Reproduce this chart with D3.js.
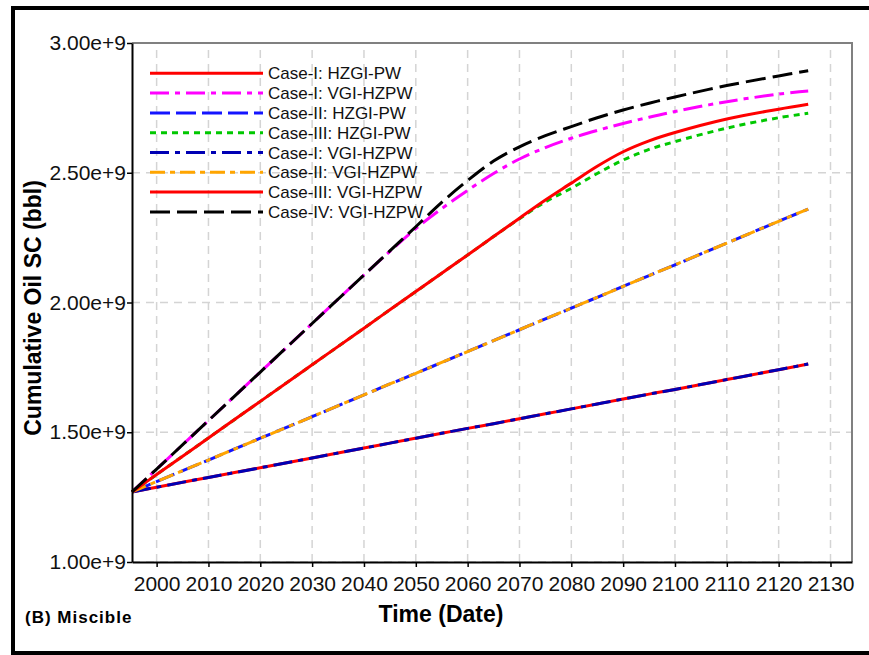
<!DOCTYPE html>
<html>
<head>
<meta charset="utf-8">
<script src="https://cdn.jsdelivr.net/npm/d3@7"></script>
<style>
  body { margin: 0; background: #fff; }
  svg { display: block; font-family: Arial, 'Liberation Sans', sans-serif; }
</style>
</head>
<body>
<div class="container"></div>
<script>
const WIDTH = 869
const HEIGHT = 655

// sample years
const years = [1995.25, 2000, 2010, 2020, 2030, 2040, 2045, 2050, 2055, 2060, 2065, 2070, 2075, 2080, 2085, 2090, 2095, 2100, 2110, 2120, 2125.7]

// cumulative oil, in units of 1e9 bbl
const case1Hzgi  = [1.270, 1.288, 1.326, 1.363, 1.401, 1.439, 1.458, 1.477, 1.496, 1.515, 1.533, 1.552, 1.571, 1.590, 1.609, 1.628, 1.647, 1.665, 1.703, 1.741, 1.763]
const case1VgiA  = [1.270, 1.358, 1.545, 1.732, 1.919, 2.106, 2.197, 2.285, 2.362, 2.432, 2.497, 2.553, 2.597, 2.633, 2.663, 2.690, 2.714, 2.736, 2.774, 2.803, 2.815]
const case2Hzgi  = [1.270, 1.310, 1.393, 1.477, 1.560, 1.644, 1.686, 1.727, 1.769, 1.811, 1.853, 1.895, 1.937, 1.978, 2.020, 2.062, 2.104, 2.145, 2.229, 2.313, 2.360]
const case3Hzgi  = [1.270, 1.337, 1.478, 1.619, 1.760, 1.901, 1.972, 2.042, 2.113, 2.183, 2.254, 2.323, 2.388, 2.440, 2.497, 2.549, 2.590, 2.620, 2.672, 2.712, 2.729]
const case1VgiB  = [1.270, 1.288, 1.326, 1.363, 1.401, 1.439, 1.458, 1.477, 1.496, 1.515, 1.533, 1.552, 1.571, 1.590, 1.609, 1.628, 1.647, 1.665, 1.703, 1.741, 1.763]
const case2Vgi   = [1.270, 1.310, 1.393, 1.477, 1.560, 1.644, 1.686, 1.727, 1.769, 1.811, 1.853, 1.895, 1.937, 1.978, 2.020, 2.062, 2.104, 2.145, 2.229, 2.313, 2.360]
const case3Vgi   = [1.270, 1.337, 1.478, 1.619, 1.760, 1.901, 1.972, 2.042, 2.113, 2.183, 2.254, 2.325, 2.395, 2.460, 2.525, 2.581, 2.623, 2.655, 2.707, 2.745, 2.764]
const case4Vgi   = [1.270, 1.358, 1.545, 1.732, 1.919, 2.106, 2.199, 2.292, 2.386, 2.470, 2.545, 2.600, 2.643, 2.678, 2.712, 2.742, 2.768, 2.792, 2.836, 2.873, 2.893]

const seriesNames = ['Case-I: HZGI-PW', 'Case-I: VGI-HZPW', 'Case-II: HZGI-PW', 'Case-III: HZGI-PW', 'Case-I: VGI-HZPW', 'Case-II: VGI-HZPW', 'Case-III: VGI-HZPW', 'Case-IV: VGI-HZPW']
const seriesValues = [case1Hzgi, case1VgiA, case2Hzgi, case3Hzgi, case1VgiB, case2Vgi, case3Vgi, case4Vgi]
const seriesColors = ['#ff0000', '#ff00ff', '#1414ff', '#00c800', '#0000b4', '#ffa500', '#ff0000', '#000000']
const seriesDash = ['none', '19,6,5,6', '20,6', '6,5', '19,6,5,6', '15,5,5,5', 'none', '20,7']

const xTicks = [2000, 2010, 2020, 2030, 2040, 2050, 2060, 2070, 2080, 2090, 2100, 2110, 2120, 2130]
const yTicks = [1.0e9, 1.5e9, 2.0e9, 2.5e9, 3.0e9]

const margin = { left: 132, right: WIDTH - 852, top: 43, bottom: HEIGHT - 562 }

const x = d3.scaleLinear().domain([1995.25, 2134.15]).range([margin.left, WIDTH - margin.right])
const y = d3.scaleLinear().domain([1.0e9, 3.0e9]).range([HEIGHT - margin.bottom, margin.top])

const svg = d3.select('.container').append('svg')
    .attr('width', WIDTH)
    .attr('height', HEIGHT)
    .attr('viewBox', `0 0 ${WIDTH} ${HEIGHT}`)

// outer frame
svg.append('rect')
    .attr('x', 13).attr('y', 8)
    .attr('width', 900).attr('height', 645)
    .attr('fill', 'none').attr('stroke', '#000').attr('stroke-width', 4)

// grid
const grid = svg.append('g').attr('stroke', '#d4d4d4').attr('stroke-width', 1.5).attr('stroke-dasharray', '8,6')
grid.selectAll('.gx').data(xTicks).join('line')
    .attr('x1', d => x(d)).attr('x2', d => x(d))
    .attr('y1', y.range()[0]).attr('y2', y.range()[1])
grid.selectAll('.gy').data(yTicks).join('line')
    .attr('y1', d => y(d)).attr('y2', d => y(d))
    .attr('x1', x.range()[0]).attr('x2', x.range()[1])

// top / right plot frame
svg.append('path')
    .attr('d', `M${x.range()[0]},${y.range()[1]}H${x.range()[1]}V${y.range()[0]}`)
    .attr('fill', 'none').attr('stroke', '#808080').attr('stroke-width', 2)

// series
const line = d3.line()
    .x((d, i) => x(years[i]))
    .y(d => y(d * 1e9))
    .curve(d3.curveCatmullRom.alpha(0.5))

svg.append('g').selectAll('path')
    .data(seriesValues)
    .join('path')
    .attr('d', d => line(d))
    .attr('fill', 'none')
    .attr('stroke', (d, i) => seriesColors[i])
    .attr('stroke-width', 3)
    .attr('stroke-dasharray', (d, i) => seriesDash[i])

// axes
const xAxis = svg.append('g')
    .attr('transform', `translate(0,${y.range()[0]})`)
    .call(d3.axisBottom(x).tickValues(xTicks).tickFormat(d3.format('d')).tickSize(5).tickPadding(9).tickSizeOuter(0))
const yAxis = svg.append('g')
    .attr('transform', `translate(${x.range()[0]},0)`)
    .call(d3.axisLeft(y).tickValues(yTicks).tickFormat(d3.format('.2e')).tickSize(5).tickPadding(1).tickSizeOuter(0))

for (const ax of [xAxis, yAxis]) {
    ax.select('.domain').attr('stroke', '#000').attr('stroke-width', 2)
    ax.selectAll('.tick line').attr('stroke', '#000').attr('stroke-width', 1.5)
    ax.selectAll('.tick text')
        .attr('fill', '#111')
        .style('font-family', "Arial, 'Liberation Sans', sans-serif")
        .style('font-size', '21px')
}

// axis titles
svg.append('text')
    .attr('x', 441).attr('y', 622)
    .attr('text-anchor', 'middle')
    .style('font-size', '23px').style('font-weight', 'bold')
    .text('Time (Date)')

svg.append('text')
    .attr('transform', `translate(41,308) rotate(-90)`)
    .attr('text-anchor', 'middle')
    .style('font-size', '23px').style('font-weight', 'bold')
    .text('Cumulative Oil SC (bbl)')

svg.append('text')
    .attr('x', 25).attr('y', 623)
    .style('font-size', '17px').style('font-weight', 'bold')
    .style('letter-spacing', '1px')
    .text('(B) Miscible')

// legend
const legend = svg.append('g')
const row = legend.selectAll('g')
    .data(seriesNames)
    .join('g')
    .attr('transform', (d, i) => `translate(150,${73.3 + i * 19.8})`)
row.append('line')
    .attr('x1', 0).attr('x2', 113)
    .attr('stroke', (d, i) => seriesColors[i])
    .attr('stroke-width', 3)
    .attr('stroke-dasharray', (d, i) => seriesDash[i])
row.append('text')
    .attr('x', 118).attr('dy', '0.36em')
    .style('font-size', '17px')
    .attr('fill', '#111')
    .text(d => d)
</script>
</body>
</html>
